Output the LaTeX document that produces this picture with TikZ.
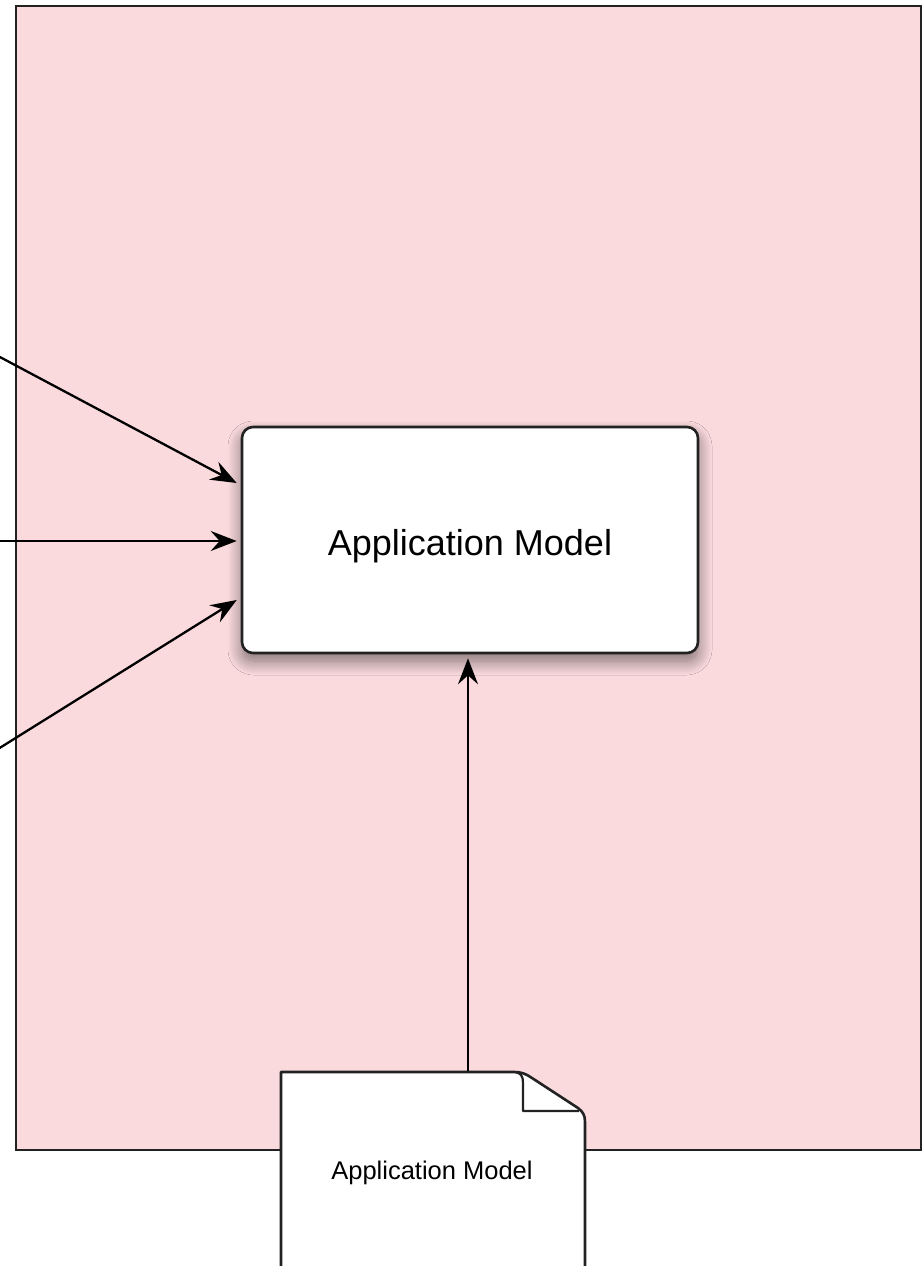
\documentclass[tikz,border=0pt]{standalone}
\usepackage{fontspec}
\setmainfont{Liberation Sans}
\usetikzlibrary{arrows.meta,shadows.blur}
\definecolor{pinkbg}{HTML}{FADADD}
\definecolor{edge}{HTML}{222222}
\tikzset{
  conn/.style={draw=black, line width=2.3pt, -{Stealth[length=26pt,width=20pt,inset=9pt]}},
  modelbox/.style={draw=edge, line width=2.6pt, fill=white, rounded corners=11pt,
    minimum width=456pt, minimum height=226pt, inner sep=0pt,
    blur shadow={shadow xshift=0pt, shadow yshift=-8pt, shadow opacity=50, shadow blur radius=14pt, shadow blur steps=14}},
  docshape/.style={draw=edge, line width=2.6pt, fill=white, line join=round},
}
\begin{document}
\begin{tikzpicture}[x=1pt,y=-1pt]
\useasboundingbox (0,0) rectangle (922,1266);
\clip (0,0) rectangle (922,1266);
% container
\draw[draw=edge, line width=2.6pt, fill=pinkbg] (16,6) rectangle (921,1150);
% central box
\node[modelbox] (box) at (470,540) {};
\node[font=\fontsize{36}{40}\selectfont] (boxlabel) at (470,546) {Application Model};
% document
\draw[docshape] (281,1290) -- (281,1072) -- (514,1072)
  .. controls (522,1072) and (526,1074) .. (532,1078) -- (578,1108)
  .. controls (583,1112) and (585,1115) .. (585,1122) -- (585,1290);
\draw[docshape, line width=2.2pt] (515,1072) .. controls (521,1073) and (523,1076) .. (523,1083)
  -- (523,1111) -- (579,1111);
\node[font=\fontsize{25.5}{28}\selectfont] (doc) at (432,1173) {Application Model};
% connectors
\coordinate (s1) at (-2,356);
\coordinate (s2) at (-2,541);
\coordinate (s3) at (-2,749);
\coordinate (doctop) at (468,1071);
\draw[conn] (s1) -- ([xshift=-4pt,yshift=57pt]box.west);
\draw[conn] (s2) -- ([xshift=-4pt,yshift=-1pt]box.west);
\draw[conn] (s3) -- ([xshift=-4pt,yshift=-60pt]box.west);
\draw[conn] (doctop) -- ([xshift=-2pt,yshift=-4pt]box.south);
\end{tikzpicture}
\end{document}
